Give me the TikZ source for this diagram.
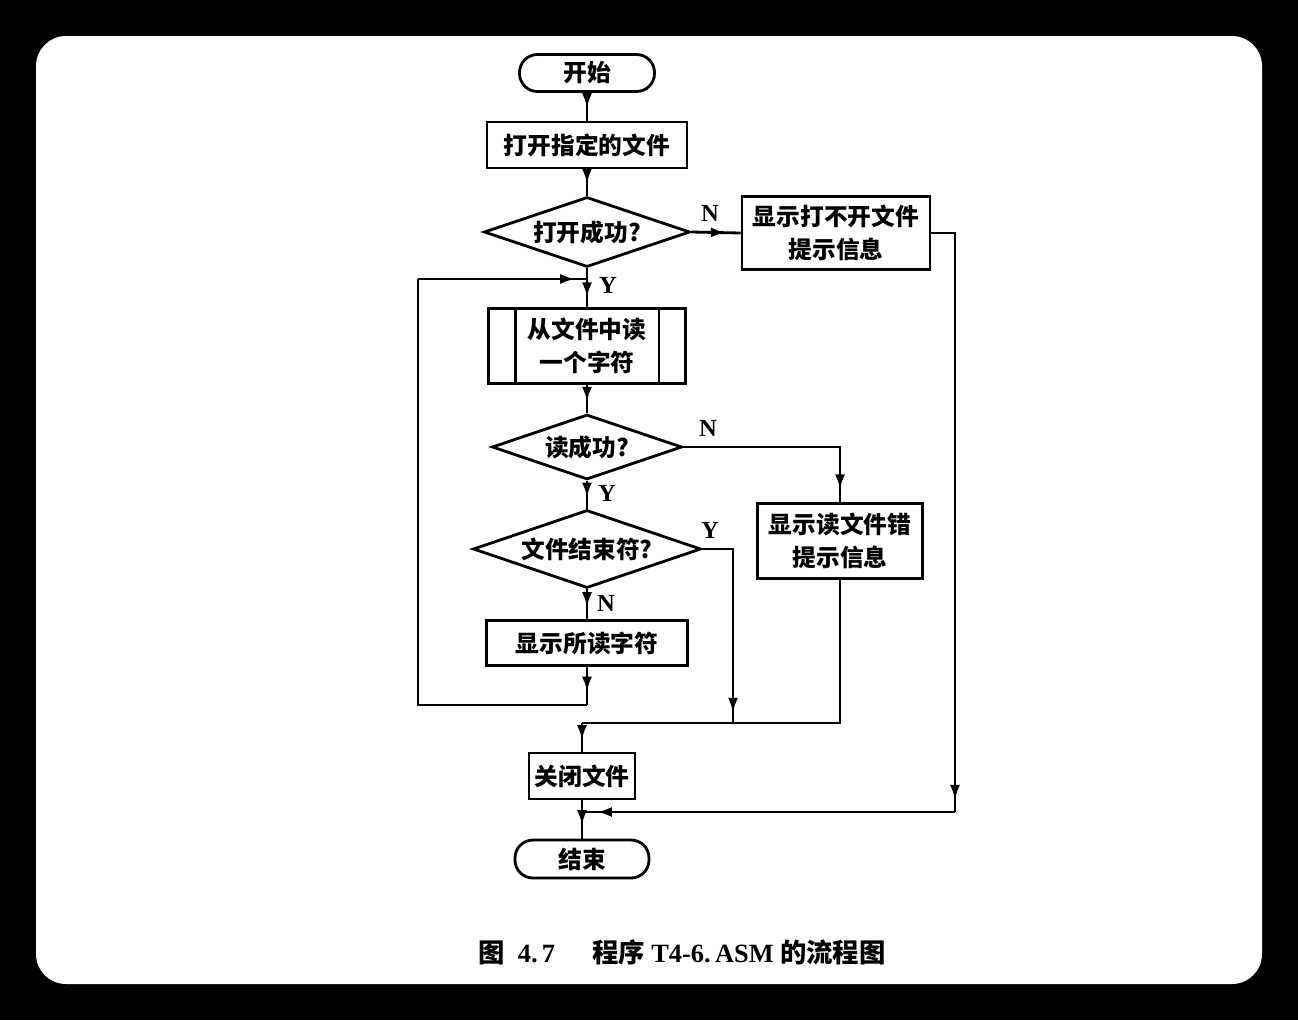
\documentclass[tikz,border=0pt]{standalone}
\usepackage{fontspec}
\setmainfont{Liberation Serif}
\newfontfamily\cjk{Noto Sans CJK SC}
\usepackage{tikz}
\usetikzlibrary{positioning, arrows.meta, shapes.geometric, decorations.markings}

\tikzset{
  base/.style={draw, line width=1.6pt, align=center, inner sep=2pt,
    font=\cjk\bfseries\fontsize{13.5}{19}\selectfont},
  term/.style={base, rounded corners=3.6mm},
  proc/.style={base, rectangle},
  decide/.style={base, diamond, inner sep=0pt, aspect=2.93},
  yn/.style={font=\bfseries\fontsize{14}{16}\selectfont},
  line/.style={line width=1.6pt},
  marr/.style={line, postaction={decorate, decoration={markings,
    mark=at position #1 with {\arrow{Latex[length=3mm,width=2mm]}}}}}
}

\begin{document}
\begin{tikzpicture}[x=0.2mm, y=-0.2mm]
    % card
    \fill[black] (0,0) rectangle (1298,1020);
    \fill[white, rounded corners=6mm] (36,36) rectangle (1262,984);

    % boxes
    \node[term, minimum width=2.7cm, minimum height=0.74cm] (start) at (587,73) {开始};
    \node[proc, minimum width=4cm, minimum height=0.92cm] (open) at (587,145) {打开指定的文件};
    \node[decide, minimum width=4.12cm, minimum height=1.4cm] (ok1) at (587,232) {打开成功?};
    \node[proc, minimum width=3.76cm, minimum height=1.46cm] (err1) at (836,233) {显示打不开文件\\提示信息};
    \node[proc, minimum width=3.94cm, minimum height=1.5cm] (read) at (587,346) {从文件中读\\一个字符};
    \draw[line] ([xshift=0.56cm]read.north west) -- ([xshift=0.56cm]read.south west);
    \draw[line] ([xshift=-0.56cm]read.north east) -- ([xshift=-0.56cm]read.south east);
    \node[decide, minimum width=3.8cm, minimum height=1.3cm] (ok2) at (587,447) {读成功?};
    \node[proc, minimum width=3.3cm, minimum height=1.5cm] (err2) at (840,541) {显示读文件错\\提示信息};
    \node[decide, minimum width=4.56cm, minimum height=1.56cm] (eof) at (587,549) {文件结束符?};
    \node[proc, minimum width=4.02cm, minimum height=0.9cm] (show) at (587,643) {显示所读字符};
    \node[proc, minimum width=2.12cm, minimum height=0.92cm] (close) at (582,776) {关闭文件};
    \node[term, minimum width=2.68cm, minimum height=0.76cm] (stop) at (582,859) {结束};

    % joints
    \coordinate (loopT) at (587,279);
    \coordinate (loopL1) at (418,279);
    \coordinate (loopL2) at (418,705);
    \coordinate (loopB) at (587,705);
    \coordinate (jY) at (733,723);
    \coordinate (jL) at (582,723);
    \coordinate (jR) at (955,812);
    \coordinate (jC) at (582,812);

    % flow
    \draw[marr=0.55] (start.south) -- (open.north);
    \draw[marr=0.55] (open.south) -- (ok1.north);
    \draw[marr=0.7] (ok1.east) -- (err1.west);
    \draw[marr=0.75] (ok1.south) -- (read.north);
    \draw[marr=0.6] (read.south) -- (ok2.north);
    \draw[marr=0.94] (ok2.east) -| (err2.north);
    \draw[marr=0.6] (ok2.south) -- (eof.north);
    \draw[marr=0.6] (eof.south) -- (show.north);
    \draw[marr=0.95] (eof.east) -| (jY);
    \draw[marr=0.65] (show.south) -- (loopB);
    \draw[line] (loopB) -- (loopL2) -- (loopL1);
    \draw[marr=0.93] (loopL1) -- (loopT);
    \draw[line] (err2.south) |- (jL);
    \draw[marr=0.6] (jL) -- (close.north);
    \draw[marr=0.98] (err1.east) -| (jR);
    \draw[marr=0.96] (jR) -- (jC);
    \draw[marr=0.65] (close.south) -- (stop.north);

    % Y / N
    \node[yn] (n1) at (710,213) {N};
    \node[yn] (y1) at (608,285) {Y};
    \node[yn] (n2) at (708,428) {N};
    \node[yn] (y2) at (607,493) {Y};
    \node[yn] (y3) at (710,530) {Y};
    \node[yn] (n3) at (606,603) {N};

    % caption
    \node[font=\bfseries\fontsize{15}{17}\selectfont] (cap) at (682,952)
      {{\cjk 图}\ \ 4.\,7\hspace{1.4em}{\cjk 程序}\ T4-6.\,ASM\ {\cjk 的流程图}};
\end{tikzpicture}
\end{document}
